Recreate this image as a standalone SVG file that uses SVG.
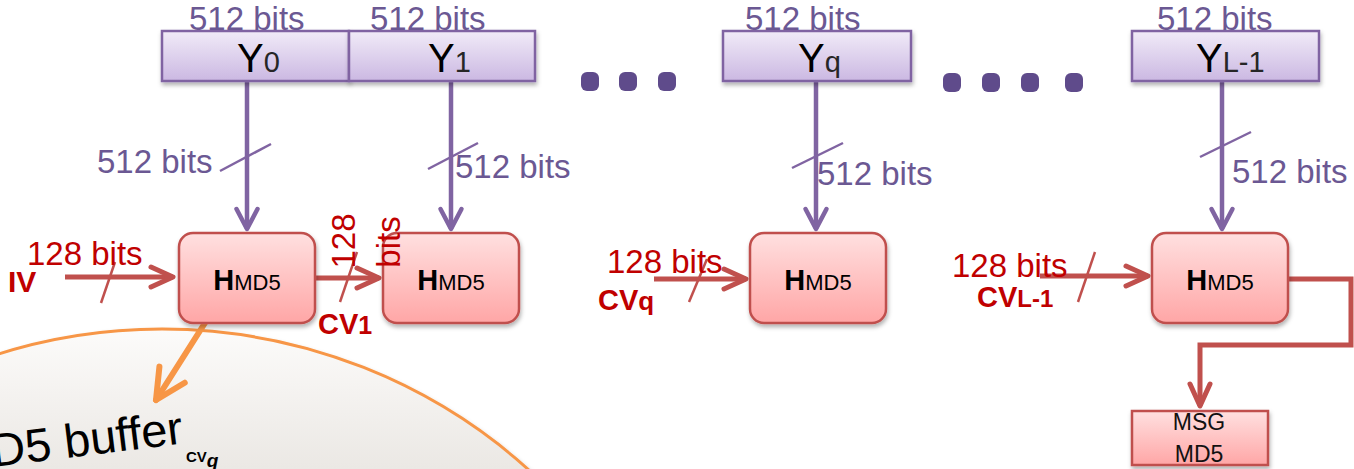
<svg xmlns="http://www.w3.org/2000/svg" width="1354" height="469" viewBox="0 0 1354 469">
<style>
text{font-family:"Liberation Sans",Arial,sans-serif}
.pt{fill:#6b5893;font-size:33px}
.rt{fill:#c00000;font-size:33px}
.rb{fill:#c00000;font-weight:bold}
.pl{stroke:#8064a2;stroke-width:4.5;fill:none}
.rl{stroke:#c0504d;stroke-width:5;fill:none}
.ol{stroke:#f79646;stroke-width:6;fill:none;stroke-linecap:round}
.ps{stroke:#8064a2;stroke-width:2.5}
.rs{stroke:#c0504d;stroke-width:2.5}
.yb{fill:url(#gY);stroke:#8064a2;stroke-width:2.5}
.hb{fill:url(#gH);stroke:#c0504d;stroke-width:2.5}
.dot{fill:#5f4b8b}
.yl{fill:#000;font-size:40px}
.ys{fill:#262626;font-size:29px}
.hl{fill:#000;font-size:29px;font-weight:bold}
.hs{fill:#000;font-size:22px}
</style>
<defs>
<linearGradient id="gY" x1="0" y1="0" x2="0" y2="1"><stop offset="0" stop-color="#f1ebf8"/><stop offset="1" stop-color="#cbb8e2"/></linearGradient>
<linearGradient id="gH" x1="0" y1="0" x2="0" y2="1"><stop offset="0" stop-color="#ffe0e0"/><stop offset="1" stop-color="#ffa6a6"/></linearGradient>
<linearGradient id="gC" gradientUnits="userSpaceOnUse" x1="0" y1="330" x2="0" y2="469"><stop offset="0" stop-color="#fcfbfa"/><stop offset="1" stop-color="#ebe8e4"/></linearGradient>
<filter id="sh" x="-10%" y="-10%" width="130%" height="140%"><feDropShadow dx="1" dy="3" stdDeviation="2" flood-color="#000" flood-opacity="0.3"/></filter>
<marker id="mP" markerUnits="userSpaceOnUse" viewBox="-4 -4 29 30" markerWidth="29" markerHeight="30" refX="20" refY="10.5" orient="auto"><path d="M0,0 L20,10.5 L0,21" fill="none" stroke="#8064a2" stroke-width="4.5" stroke-linecap="round" stroke-linejoin="round"/></marker>
<marker id="mR" markerUnits="userSpaceOnUse" viewBox="-4 -4 31 29" markerWidth="31" markerHeight="29" refX="22" refY="10" orient="auto"><path d="M0,0 L22,10 L0,20" fill="none" stroke="#c0504d" stroke-width="5" stroke-linecap="round" stroke-linejoin="round"/></marker>
<marker id="mO" markerUnits="userSpaceOnUse" viewBox="-5 -5 40 40" markerWidth="40" markerHeight="40" refX="30" refY="15" orient="auto"><path d="M0,0 L30,15 L0,30" fill="none" stroke="#f79646" stroke-width="6" stroke-linecap="round" stroke-linejoin="round"/></marker>
</defs>

<g id="buffer">
<circle cx="162" cy="877" r="548" fill="url(#gC)" stroke="#f79646" stroke-width="3" filter="url(#sh)"/>
<text x="-8" y="455" font-size="47" fill="#000" transform="rotate(-7 90 450)">D5 buffer</text>
<text x="186" y="462" font-family="'Liberation Serif',serif" font-weight="bold" font-size="15" fill="#000">CV<tspan font-style="italic" font-size="19" dy="5">q</tspan></text>
</g>

<g id="dots">
<rect class="dot" x="581" y="72" width="18" height="19" rx="6"/>
<rect class="dot" x="619" y="72" width="18" height="19" rx="6"/>
<rect class="dot" x="658" y="72" width="18" height="19" rx="6"/>
<rect class="dot" x="943" y="73" width="18" height="19" rx="6"/>
<rect class="dot" x="982" y="73" width="18" height="19" rx="6"/>
<rect class="dot" x="1021" y="73" width="18" height="19" rx="6"/>
<rect class="dot" x="1065" y="73" width="18" height="19" rx="6"/>
</g>

<g id="connectors">
<path class="pl" d="M247,81 V229" marker-end="url(#mP)"/>
<path class="pl" d="M451,81 V229" marker-end="url(#mP)"/>
<path class="pl" d="M816,81 V229" marker-end="url(#mP)"/>
<path class="pl" d="M1222,81 V229" marker-end="url(#mP)"/>
<line class="ps" x1="220" y1="171" x2="271" y2="144"/>
<line class="ps" x1="428" y1="169" x2="478" y2="143"/>
<line class="ps" x1="792" y1="168" x2="843" y2="143"/>
<line class="ps" x1="1200" y1="157" x2="1251" y2="132"/>
<path class="rl" d="M65,277 H173" marker-end="url(#mR)"/>
<path class="rl" d="M315,278 H379" marker-end="url(#mR)"/>
<path class="rl" d="M654,279 H746" marker-end="url(#mR)"/>
<path class="rl" d="M1040,276 H1148" marker-end="url(#mR)"/>
<path class="rl" d="M1288,279 H1351 V345 H1200 V406" marker-end="url(#mR)"/>
<line class="rs" x1="101" y1="303" x2="115" y2="262"/>
<line class="rs" x1="340" y1="302" x2="357" y2="252"/>
<line class="rs" x1="689" y1="302" x2="707" y2="259"/>
<line class="rs" x1="1078" y1="302" x2="1095" y2="252"/>
<path class="ol" d="M210,315 L156,400" marker-end="url(#mO)"/>
</g>

<g id="Y0"><rect class="yb" x="162" y="31" width="187" height="50" filter="url(#sh)"/><text x="237" y="72"><tspan class="yl">Y</tspan><tspan class="ys">0</tspan></text></g>
<g id="Y1"><rect class="yb" x="349" y="31" width="186" height="50" filter="url(#sh)"/><text x="428" y="72"><tspan class="yl">Y</tspan><tspan class="ys">1</tspan></text></g>
<g id="Yq"><rect class="yb" x="723" y="31" width="188" height="50" filter="url(#sh)"/><text x="798" y="72"><tspan class="yl">Y</tspan><tspan class="ys">q</tspan></text></g>
<g id="YL-1"><rect class="yb" x="1132" y="31" width="187" height="50" filter="url(#sh)"/><text x="1196" y="72"><tspan class="yl">Y</tspan><tspan class="ys">L-1</tspan></text></g>

<g id="Y-labels">
<text class="pt" x="189" y="30">512 bits</text>
<text class="pt" x="370" y="30">512 bits</text>
<text class="pt" x="745" y="30">512 bits</text>
<text class="pt" x="1157" y="30">512 bits</text>
</g>

<g id="H1"><rect class="hb" x="179" y="233" width="136" height="90" rx="14" filter="url(#sh)"/><text x="247" y="290" text-anchor="middle"><tspan class="hl">H</tspan><tspan class="hs">MD5</tspan></text></g>
<g id="H2"><rect class="hb" x="383" y="233" width="136" height="90" rx="14" filter="url(#sh)"/><text x="451" y="290" text-anchor="middle"><tspan class="hl">H</tspan><tspan class="hs">MD5</tspan></text></g>
<g id="Hq"><rect class="hb" x="750" y="233" width="136" height="90" rx="14" filter="url(#sh)"/><text x="818" y="290" text-anchor="middle"><tspan class="hl">H</tspan><tspan class="hs">MD5</tspan></text></g>
<g id="HL-1"><rect class="hb" x="1152" y="233" width="136" height="90" rx="14" filter="url(#sh)"/><text x="1220" y="290" text-anchor="middle"><tspan class="hl">H</tspan><tspan class="hs">MD5</tspan></text></g>
<g id="MSG"><rect class="hb" x="1132" y="411" width="136" height="54" filter="url(#sh)"/><text x="1199" y="430" text-anchor="middle" font-size="23" fill="#111">MSG</text><text x="1199" y="462" text-anchor="middle" font-size="23" fill="#111">MD5</text></g>

<g id="labels">
<text class="pt" x="97" y="173">512 bits</text>
<text class="pt" x="455" y="178">512 bits</text>
<text class="pt" x="817" y="185">512 bits</text>
<text class="pt" x="1232" y="183">512 bits</text>
<text class="rt" x="27" y="265">128 bits</text>
<text class="rt" x="607" y="273">128 bits</text>
<text class="rt" x="952" y="277">128 bits</text>
<text class="rt" font-size="32" text-anchor="middle" transform="translate(355,241) rotate(-90)">128</text>
<text class="rt" font-size="32" text-anchor="middle" transform="translate(400,242) rotate(-90)">bits</text>
<text class="rb" x="8" y="292" font-size="30">IV</text>
<text class="rb" x="318" y="334" font-size="29">CV<tspan font-size="25">1</tspan></text>
<text class="rb" x="598" y="310" font-size="29">CV<tspan font-size="26">q</tspan></text>
<text class="rb" x="977" y="307" font-size="29">CV<tspan font-size="24">L-1</tspan></text>
</g>
</svg>
